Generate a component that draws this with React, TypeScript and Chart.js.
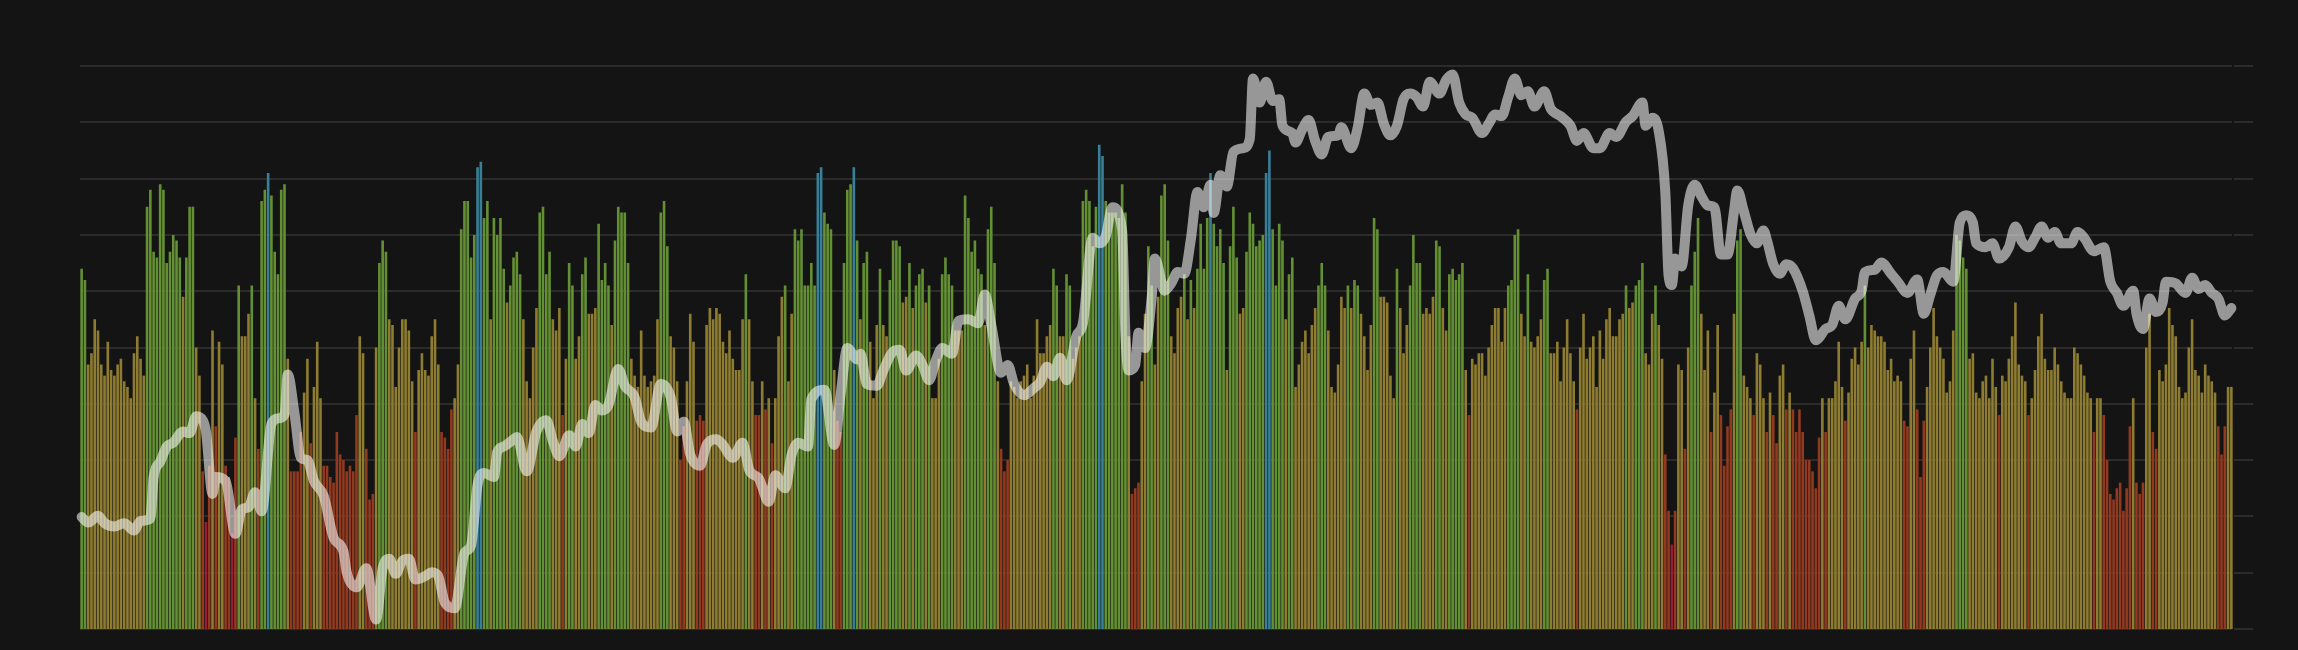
import React, { useEffect, useRef } from "react";
import { Chart, registerables } from "chart.js";

Chart.register(...registerables);

// Sentiment index (0-100), one bar per day, read left to right
const sentimentPart1 = [
  64, 62, 47, 49, 55, 53, 47, 45, 51, 46, 45, 47, 48, 44, 43, 41, 49, 52, 48, 45,
  75, 78, 67, 66, 79, 78, 65, 67, 70, 69, 66, 59, 66, 75, 75, 50, 45, 28, 19, 29,
  53, 36, 51, 47, 29, 27, 17, 34, 61, 52, 52, 56, 61, 41, 32, 76, 78, 81, 77, 67,
  63, 78, 79, 48, 28, 28, 28, 35, 42, 48, 33, 43, 51, 41, 29, 29, 27, 26, 35, 31,
  30, 28, 29, 28, 38, 52, 49, 32, 23, 24, 50, 65, 69, 67, 55, 54, 43, 50, 55, 55,
  53, 44, 35, 46, 49, 46, 45, 52, 55, 47, 35, 34, 32, 39, 41, 47, 71, 76, 76, 66,
  70, 82, 83, 73, 76, 55, 73, 70, 73, 64, 58,
];
const sentimentPart2 = [
  61, 66, 67, 63, 55, 44, 41, 50, 57, 74, 75, 63, 67, 55, 53, 57, 38, 48, 65, 61,
  48, 52, 63, 66, 56, 56, 57, 72, 62, 65, 61, 54, 69, 75, 74, 74, 65, 48, 45, 43,
  53, 45, 43, 44, 45, 55, 74, 76, 68, 52, 50, 44, 30, 36, 44, 56, 51, 37, 38, 37,
  54, 57, 55, 57, 56, 51, 49, 53, 48, 46, 46, 55, 63, 55, 44, 38, 38, 44, 39, 41,
  33, 41, 52, 59, 61, 44, 56, 71, 69, 71, 61, 61, 65, 61, 81, 82, 74, 72, 71, 46,
  37, 35, 65, 78, 79, 82, 69, 55, 65, 67, 51, 41, 54, 64, 54, 52, 62, 69, 69, 68,
  58, 59, 65, 57, 61, 63, 64, 58, 61, 41, 41, 48, 63, 66,
];
const sentimentPart3 = [
  63, 61, 53, 53, 53, 77, 73, 67, 69, 64, 63, 54, 71, 75, 65, 44, 32, 28, 30, 44,
  43, 41, 44, 45, 47, 41, 45, 55, 49, 49, 52, 54, 64, 61, 52, 52, 63, 61, 48, 50,
  52, 76, 78, 76, 68, 75, 86, 84, 76, 74, 74, 74, 73, 79, 74, 52, 24, 25, 26, 44,
  56, 68, 61, 47, 59, 77, 79, 69, 52, 49, 57, 59, 63, 55, 62, 57, 64, 72, 64, 73,
  81, 72, 68, 71, 65, 46, 68, 75, 66, 56, 57, 67, 74, 72, 68, 69, 70, 81, 85, 71,
  61, 72, 69, 55, 63, 66, 43, 47, 51, 53, 49, 54, 57, 61, 65, 61, 53, 43, 42, 47,
  59, 57, 61, 57, 62, 61, 56, 52, 46, 54,
];
const sentimentPart4 = [
  73, 71, 59, 59, 58, 45, 41, 64, 57, 49, 54, 61, 70, 65, 65, 56, 57, 56, 59, 69,
  68, 57, 53, 63, 64, 62, 63, 65, 46, 38, 48, 47, 49, 49, 45, 50, 54, 57, 57, 51,
  57, 61, 62, 70, 71, 56, 52, 63, 51, 50, 52, 55, 62, 64, 49, 49, 51, 44, 50, 55,
  49, 44, 39, 50, 56, 48, 50, 52, 43, 53, 48, 55, 57, 52, 52, 55, 56, 61, 57, 58,
  61, 62, 65, 49, 47, 56, 61, 54, 48, 31, 21, 15, 21, 47, 46, 32, 50, 61, 67, 73,
  56, 46, 53, 35, 42, 54, 38, 29, 36, 39, 56, 69, 71, 45, 43, 41, 38, 49, 47, 41,
  35, 42, 38, 33, 45, 47, 39, 42, 39, 35,
];
const sentimentPart5 = [
  39, 35, 30, 30, 28, 25, 34, 41, 35, 41, 41, 44, 51, 43, 37, 42, 48, 50, 47, 51,
  61, 50, 54, 53, 52, 52, 51, 46, 48, 44, 45, 44, 37, 36, 48, 53, 39, 27, 37, 43,
  50, 57, 52, 50, 48, 42, 44, 53, 70, 69, 66, 64, 48, 49, 42, 41, 44, 45, 41, 48,
  43, 38, 45, 44, 48, 52, 58, 47, 45, 44, 38, 41, 46, 52, 56, 48, 46, 46, 50, 47,
  44, 42, 41, 41, 50, 49, 47, 45, 42, 41, 35, 41, 41, 38, 30, 24, 23, 25, 26, 21,
  25, 36, 41, 26, 24, 26, 50, 56, 35, 32, 46, 44, 47, 57, 54, 52, 43, 41, 42, 50,
  55, 46, 45, 42, 47, 45, 44, 42, 36, 31, 36, 43, 43,
];

// Price line, sampled at day indices (right axis, relative units 0-100)
const priceDays = [
  0, 2, 5, 7, 10, 13, 16, 18, 21, 22, 24, 26, 28, 31, 33, 35, 37, 38, 40, 41,
  44, 47, 49, 51, 53, 55, 58, 60, 62, 63, 65, 67, 69, 71, 74, 77, 80, 81, 84, 87,
  90, 92, 94, 96, 98, 100, 102, 105, 107, 109, 111, 114, 117, 119, 121, 123, 126, 127, 129, 132,
  133, 136, 139, 142, 144, 146, 149, 151, 153, 155, 157, 159, 161, 164, 166, 169, 171, 174, 177, 180,
  182, 184, 186, 189, 191, 194, 196, 199, 202, 204, 207, 210, 212, 215, 217, 219, 222, 223, 227, 230,
  232, 234, 237, 238, 240, 243, 245, 248, 250, 252, 255, 257, 259, 261, 263,
  266, 268, 271, 274, 276, 278, 281, 283, 285, 288, 291, 293, 295, 297, 299, 301, 304, 306, 309, 311,
  313, 315, 318, 319, 320, 322, 323, 325, 327, 328, 331, 333, 335, 337, 339, 341, 343, 345, 346, 348,
  350, 352, 355, 357, 358, 360, 362, 364, 366, 367, 370, 371, 373, 375, 377, 379, 381, 384, 385, 388,
  390, 392, 394,
  396, 398, 400, 402, 404, 406, 408, 410, 412, 415, 417, 419, 421, 423, 425, 428, 430, 432, 434, 436,
  438, 440, 442, 444, 447, 449, 452, 455, 457, 459, 462, 464, 467, 469, 472, 474, 477, 478, 480, 482,
  484, 485, 486, 487, 489, 491, 493, 495, 497, 499, 501, 503, 505, 506, 508, 510, 512, 514, 515, 517,
  519, 521, 523, 526,
  528, 530, 533, 535, 537, 539, 542, 544, 545, 548, 550, 553, 555, 558, 561, 563, 565, 567, 569, 572,
  574, 576, 578, 579, 582, 584, 586, 589, 591, 593, 595, 597, 599, 601, 603, 605, 608, 610, 612, 615,
  618, 620, 622, 624, 627, 628, 630, 632, 634, 636, 637, 640, 643, 645, 647, 649, 651, 653, 655, 657,
];
const priceValues = [
  19.9, 18.9, 20.1, 18.8, 18.2, 18.8, 17.5, 19.2, 19.6, 27, 29.7, 32.4, 33.1, 35.1, 34.8, 37.8, 37.1, 35.1, 24, 27,
  26.3, 16.9, 21.3, 21.6, 24.3, 20.9, 36.4, 37.4, 38.1, 45.2, 38.5, 30.4, 30, 26.3, 23.6, 16.2, 13.8, 10.1, 7.4, 10.8,
  1.7, 10.8, 12.5, 9.8, 12.1, 12.5, 8.8, 9.4, 10.1, 9.4, 4.7, 3.7, 13.5, 14.8, 25.6, 27.7, 27, 31.4, 32.4, 33.7,
  34.1, 28, 35.1, 37.1, 33.4, 30.7, 34.4, 32.4, 36.4, 34.8, 39.8, 38.8, 39.8, 46.2, 43.2, 41.2, 36.8, 35.8, 43.5, 41.2,
  35.1, 36.8, 31, 29, 32.7, 33.7, 32.7, 30.4, 33.1, 28.3, 26.7, 22.6, 27.3, 25, 31, 33.1, 32.4, 40.8, 42.5, 32.7,
  41.8, 49.9, 47.9, 48.9, 43.5, 43.2, 45.9, 49.3, 49.6, 45.9, 48.6, 46.9, 44.2, 47.6, 49.9,
  48.9, 54.7, 55, 54.3, 59.4, 54, 45.5, 46.9, 43.5, 41.5, 42.8, 43.9, 46.6, 44.9, 48.2, 44.2, 52, 54.3, 69.5, 68.5,
  69.8, 74.9, 70.8, 52.3, 45.9, 46.9, 52.6, 49.9, 58.7, 65.8, 60.1, 61.4, 63.4, 63.1, 69.2, 77.6, 74.9, 78.9, 73.9, 80.6,
  78.6, 84.7, 85.4, 87, 97.8, 93.5, 97.2, 93.8, 94.1, 89.4, 88.1, 86.4, 88.7, 90.4, 86.7, 84.3, 87.4, 87.7, 89.1, 85.4,
  89.1, 95.1, 93.1,
  93.5, 89.7, 87.7, 89.4, 94.1, 95.1, 94.5, 92.8, 97.2, 95.1, 97.5, 98.5, 93.5, 91.4, 90.8, 88.1, 89.7, 91.4, 91.1, 94.5,
  97.8, 94.8, 95.5, 92.8, 95.5, 92.4, 91.1, 89.4, 86.7, 88.1, 85.4, 85.4, 88.1, 87.4, 90.1, 91.1, 93.5, 89.4, 90.8, 88.4,
  77.6, 62.8, 61.1, 65.8, 64.4, 75.2, 78.9, 76.9, 75.2, 74.9, 66.5, 66.5, 74.2, 77.9, 74.2, 70.2, 68.5, 70.8, 69.2, 64.8,
  63.1, 64.8, 64.1, 60,
  55.7, 51.3, 53.3, 54, 57.4, 55, 58.7, 60.1, 63.4, 63.8, 65.1, 63.1, 61.7, 59.7, 62.1, 56, 59.4, 62.8, 63.4, 61.7,
  72.2, 73.5, 72.2, 68.5, 67.8, 68.5, 65.8, 67.8, 71.5, 68.8, 67.8, 69.5, 71.5, 69.5, 70.5, 68.5, 68.5, 70.5, 69.5, 67.1,
  67.8, 61.7, 59.7, 57.4, 60.1, 56, 53.3, 58.7, 56.3, 58, 61.7, 61.4, 59.7, 62.4, 60.4, 61.1, 59.7, 58.7, 55.7, 57,
];

const sentiment = [
  ...sentimentPart1,
  ...sentimentPart2,
  ...sentimentPart3,
  ...sentimentPart4,
  ...sentimentPart5,
];
const dayLabels = sentiment.map((_, i) => `Day ${i + 1}`);

// price series aligned to the daily categories (days without a reading stay empty)
const priceSeries: (number | null)[] = sentiment.map(() => null);
priceDays.forEach((d, i) => {
  priceSeries[d] = priceValues[i];
});

const BG = "#141414";
const COLORS = {
  extremeFear: "rgb(150, 30, 52)",
  fear: "rgb(145, 58, 32)",
  neutral: "rgb(142, 124, 48)",
  greed: "rgb(100, 144, 52)",
  extremeGreed: "rgb(56, 128, 152)",
};

function colorFor(v: number): string {
  if (v < 20) return COLORS.extremeFear;
  if (v < 40) return COLORS.fear;
  if (v < 60) return COLORS.neutral;
  if (v < 80) return COLORS.greed;
  return COLORS.extremeGreed;
}

export default function App() {
  const canvasRef = useRef<HTMLCanvasElement | null>(null);

  useEffect(() => {
    const canvas = canvasRef.current;
    if (!canvas) return;
    const chart = new Chart(canvas, {
      type: "bar",
      data: {
        labels: dayLabels,
        datasets: [
          {
            type: "line",
            label: "Price",
            data: priceSeries,
            yAxisID: "y2",
            borderColor: "rgba(255,255,255,0.56)",
            borderWidth: 10,
            pointRadius: 0,
            spanGaps: true,
            cubicInterpolationMode: "monotone",
            borderJoinStyle: "round",
            borderCapStyle: "round",
            fill: false,
            order: 1,
          } as any,
          {
            type: "bar",
            label: "Sentiment",
            data: sentiment,
            yAxisID: "y",
            backgroundColor: sentiment.map(colorFor),
            borderWidth: 0,
            barPercentage: 0.8,
            categoryPercentage: 1,
            order: 2,
          },
        ],
      },
      options: {
        responsive: false,
        animation: false,
        devicePixelRatio: 1,
        layout: { padding: { left: 80, top: 66, right: 45, bottom: 21 } },
        plugins: {
          legend: { display: false },
          tooltip: { enabled: false },
        },
        scales: {
          x: {
            type: "category",
            display: false,
            offset: true,
          },
          y: {
            display: false,
            min: 0,
            max: 100,
          },
          y2: {
            position: "right",
            min: 0,
            max: 100,
            z: 1,
            ticks: { display: false, stepSize: 10 },
            grid: {
              color: "rgba(255,255,255,0.1)",
              lineWidth: 2,
              drawTicks: true,
              tickLength: 20,
            },
            border: { display: true, color: BG, width: 2 },
          },
        },
      } as any,
    });
    return () => chart.destroy();
  }, []);

  return (
    <div
      style={{
        position: "fixed",
        left: 0,
        top: 0,
        width: 2298,
        height: 650,
        background: BG,
      }}
    >
      <canvas ref={canvasRef} width={2298} height={650} style={{ display: "block" }} />
    </div>
  );
}
